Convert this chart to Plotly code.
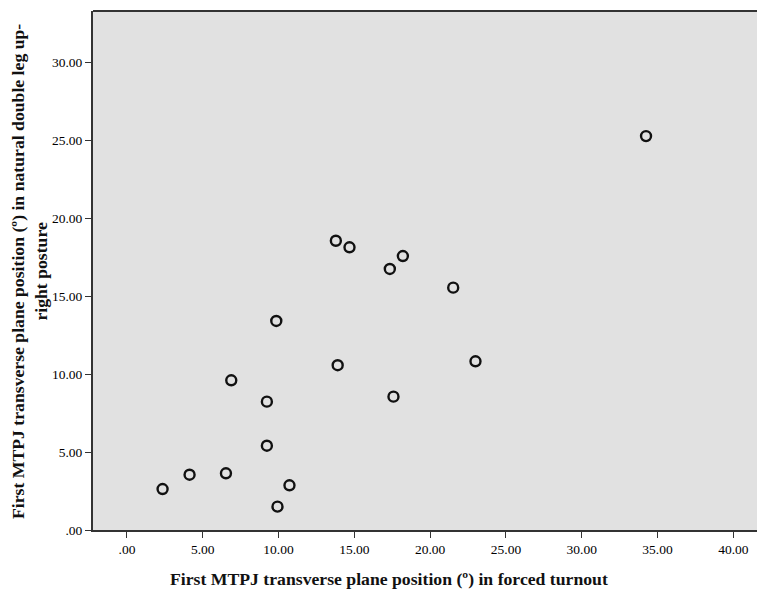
import plotly.graph_objects as go

# Data
forced_turnout = [34.24, 13.78, 14.68, 18.20, 17.34, 21.52, 9.85, 13.90, 22.99,
                  6.88, 9.23, 17.58, 9.23, 4.13, 6.53, 2.35, 10.72, 9.93]
natural_posture = [25.29, 18.57, 18.15, 17.59, 16.76, 15.56, 13.42, 10.58, 10.83,
                   9.61, 8.24, 8.56, 5.41, 3.55, 3.64, 2.63, 2.87, 1.50]

x_tick_vals = [0, 5, 10, 15, 20, 25, 30, 35, 40]
x_tick_text = [".00", "5.00", "10.00", "15.00", "20.00", "25.00", "30.00", "35.00", "40.00"]
y_tick_vals = [0, 5, 10, 15, 20, 25, 30]
y_tick_text = [".00", "5.00", "10.00", "15.00", "20.00", "25.00", "30.00"]

x_title = "First MTPJ transverse plane position (º) in forced turnout"
y_title = "First MTPJ transverse plane position (º) in natural double leg up-<br>right posture"

serif = "Liberation Serif, Times New Roman, serif"

fig = go.Figure()
fig.add_trace(go.Scatter(
    x=forced_turnout, y=natural_posture, mode="markers",
    marker=dict(symbol="circle-open", size=10, color="#111111",
                line=dict(width=2.4, color="#111111")),
    showlegend=False, hoverinfo="x+y",
))

fig.update_layout(
    width=757, height=589,
    margin=dict(l=93, r=0, t=11, b=59),
    paper_bgcolor="white",
    plot_bgcolor="#E1E1E1",
    font=dict(family=serif, size=13, color="#111111"),
    xaxis=dict(range=[-2.24, 41.56], tickvals=x_tick_vals, ticktext=x_tick_text,
               showgrid=False, zeroline=False, showline=True, linecolor="#333333",
               linewidth=2, mirror=False, ticks="outside", ticklen=6, tickwidth=1,
               tickcolor="#333333", tickfont=dict(family=serif, size=13.5, color="#000000")),
    yaxis=dict(range=[0, 33.32], tickvals=y_tick_vals, ticktext=y_tick_text,
               showgrid=False, zeroline=False, showline=True, linecolor="#333333",
               linewidth=2, ticks="outside", ticklen=6, tickwidth=1,
               tickcolor="#333333", tickfont=dict(family=serif, size=13.5, color="#000000")),
    shapes=[dict(type="line", xref="paper", yref="paper", x0=0, x1=1, y0=1, y1=1,
                 line=dict(color="#333333", width=2))],
    annotations=[
        dict(text="<b>" + x_title + "</b>", xref="paper", yref="paper",
             x=(389 - 93) / 664, y=-(579 - 530) / 519, xanchor="center", yanchor="middle",
             showarrow=False, font=dict(family=serif, size=17.7, color="#111111")),
        dict(text="<b>" + y_title + "</b>", xref="paper", yref="paper",
             x=-(93 - 29) / 664, y=(530 - 272) / 519, xanchor="center", yanchor="middle",
             textangle=-90, showarrow=False,
             font=dict(family=serif, size=17.7, color="#111111")),
    ],
)

fig.write_html("out.html", config={"displayModeBar": False},
               post_script="document.body.style.margin='0';")
